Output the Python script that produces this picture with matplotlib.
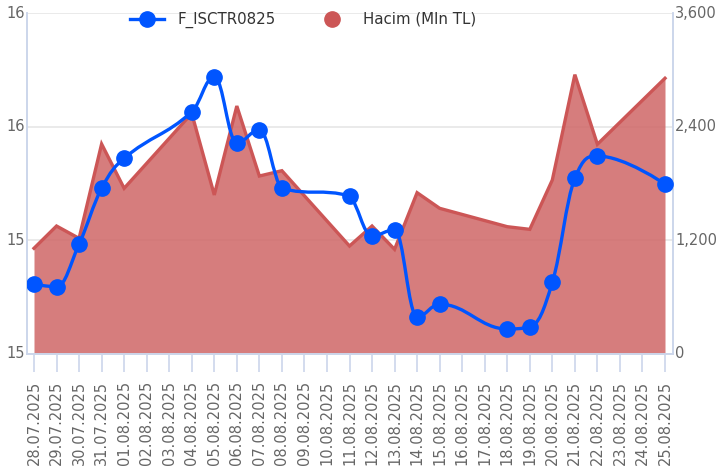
import numpy as np
import matplotlib
matplotlib.use("Agg")
import matplotlib.pyplot as plt
from matplotlib.path import Path
from matplotlib.patches import PathPatch
from matplotlib.lines import Line2D

dates = ["28.07.2025", "29.07.2025", "30.07.2025", "31.07.2025", "01.08.2025",
         "02.08.2025", "03.08.2025", "04.08.2025", "05.08.2025", "06.08.2025",
         "07.08.2025", "08.08.2025", "09.08.2025", "10.08.2025", "11.08.2025",
         "12.08.2025", "13.08.2025", "14.08.2025", "15.08.2025", "16.08.2025",
         "17.08.2025", "18.08.2025", "19.08.2025", "20.08.2025", "21.08.2025",
         "22.08.2025", "23.08.2025", "24.08.2025", "25.08.2025"]

nan = np.nan
price = [15.307, 15.296, 15.483, 15.729, 15.861,
         nan, nan, 16.065, 16.219, 15.930,
         15.985, 15.729, nan, nan, 15.695,
         15.520, 15.546, 15.164, 15.219, nan,
         nan, 15.110, 15.120, 15.315, 15.773,
         15.871, nan, nan, 15.747]

volume = [1116, 1351, 1221, 2217, 1749,
          nan, nan, 2540, 1679, 2618,
          1879, 1935, nan, nan, 1140,
          1351, 1105, 1703, 1538, nan,
          nan, 1344, 1316, 1837, 2949,
          2214, nan, nan, 2911]

left_ticks = [15.0, 15.5, 16.0, 16.5]
left_labels = ["15", "15", "16", "16"]
right_ticks = [0, 1200, 2400, 3600]
right_labels = ["0", "1,200", "2,400", "3,600"]

BLUE = "#0055FF"
RED_LINE = "#CC5656"
RED_FILL = "#CF6666"
AXIS_C = "#CCD6EB"
GRID_C = "#E6E6E6"
TXT_C = "#666666"


def spline_path(xs, ys, smoothing=1.5):
    n = len(xs)
    denom = smoothing + 1
    rc = [None] * n
    verts = [(xs[0], ys[0])]
    codes = [Path.MOVETO]
    for i in range(1, n):
        px, py = xs[i], ys[i]
        lx, ly = None, None
        if i < n - 1:
            lastX, lastY = xs[i - 1], ys[i - 1]
            nextX, nextY = xs[i + 1], ys[i + 1]
            lcx = (smoothing * px + lastX) / denom
            lcy = (smoothing * py + lastY) / denom
            rcx = (smoothing * px + nextX) / denom
            rcy = (smoothing * py + nextY) / denom
            corr = 0
            if rcx != lcx:
                corr = (rcy - lcy) * (rcx - px) / (rcx - lcx) + py - rcy
            lcy += corr
            rcy += corr
            if lcy > lastY and lcy > py:
                lcy = max(lastY, py); rcy = 2 * py - lcy
            elif lcy < lastY and lcy < py:
                lcy = min(lastY, py); rcy = 2 * py - lcy
            if rcy > nextY and rcy > py:
                rcy = max(nextY, py); lcy = 2 * py - rcy
            elif rcy < nextY and rcy < py:
                rcy = min(nextY, py); lcy = 2 * py - rcy
            rc[i] = (rcx, rcy)
            lx, ly = lcx, lcy
        prev_rc = rc[i - 1] if rc[i - 1] is not None else (xs[i - 1], ys[i - 1])
        if lx is None:
            lx, ly = px, py
        verts += [prev_rc, (lx, ly), (px, py)]
        codes += [Path.CURVE4] * 3
    return Path(verts, codes)


fig = plt.figure(figsize=(7.19, 4.68), dpi=100)
L, R, B, T = 27 / 719, 673 / 719, 114 / 468, 455 / 468
ax = fig.add_axes([L, B, R - L, T - B])
ax2 = ax.twinx()

x = np.arange(len(dates))
vol = np.array(volume, dtype=float)
pr = np.array(price, dtype=float)

# Volume area (right scale, drawn on primary axes so it sits underneath)
vm = ~np.isnan(vol)
ax.fill_between(x[vm], vol[vm], 0, color=RED_FILL, alpha=0.85, lw=0, zorder=2)
ax.plot(x[vm], vol[vm], color=RED_LINE, lw=2.4, zorder=3, solid_joinstyle="miter")
ax.set_ylim(0, 3600)
ax.set_yticks(right_ticks)
ax.set_yticklabels(right_labels)
ax.yaxis.tick_right()
ax.grid(axis="y", color=GRID_C, lw=1.2, zorder=0)
ax.set_axisbelow(True)

# Price spline (left scale)
pm = ~np.isnan(pr)
path = spline_path(list(x[pm].astype(float)), list(pr[pm]))
ax2.add_patch(PathPatch(path, facecolor="none", edgecolor=BLUE, lw=2.4, zorder=5,
                        capstyle="round", joinstyle="round"))
ax2.plot(x[pm], pr[pm], linestyle="none", marker="o", markersize=11,
         color=BLUE, zorder=6)
ax2.set_ylim(15.0, 16.5)
ax2.set_yticks(left_ticks)
ax2.set_yticklabels(left_labels)
ax2.yaxis.tick_left()

ax.set_xlim(-7 / 22.54, 28 + 8 / 22.54)
ax.set_xticks(x)
ax.set_xticklabels(dates, rotation=90)

for a in (ax, ax2):
    a.spines["top"].set_visible(False)
    for s in ("left", "right", "bottom"):
        a.spines[s].set_color(AXIS_C)
        a.spines[s].set_linewidth(1.2)

ax.tick_params(axis="x", colors=AXIS_C, length=13, width=1.2, labelcolor=TXT_C,
               labelsize=10.5, pad=6.5)
ax.tick_params(axis="y", colors=AXIS_C, length=0, width=1.2, labelcolor=TXT_C,
               labelsize=10.5, pad=1.5)
ax2.tick_params(axis="y", colors=AXIS_C, length=0, width=1.2, labelcolor=TXT_C,
                labelsize=10.5, pad=1.5)
for lab in ax.get_yticklabels() + ax2.get_yticklabels():
    lab.set_verticalalignment("center")

h1 = Line2D([], [], color=BLUE, lw=2.4, marker="o", markersize=11)
h2 = Line2D([], [], color=RED_LINE, lw=0, marker="o", markersize=11)
fig.legend([h1, h2], ["F_ISCTR0825", "Hacim (Mln TL)"], loc="center",
           bbox_to_anchor=(303 / 719, 1 - 20 / 468), ncol=2, frameon=False,
           fontsize=10.8, handlelength=2.3, columnspacing=2.6, handletextpad=0.9,
           labelcolor="#333333")

fig.savefig("out.png", dpi=100)
